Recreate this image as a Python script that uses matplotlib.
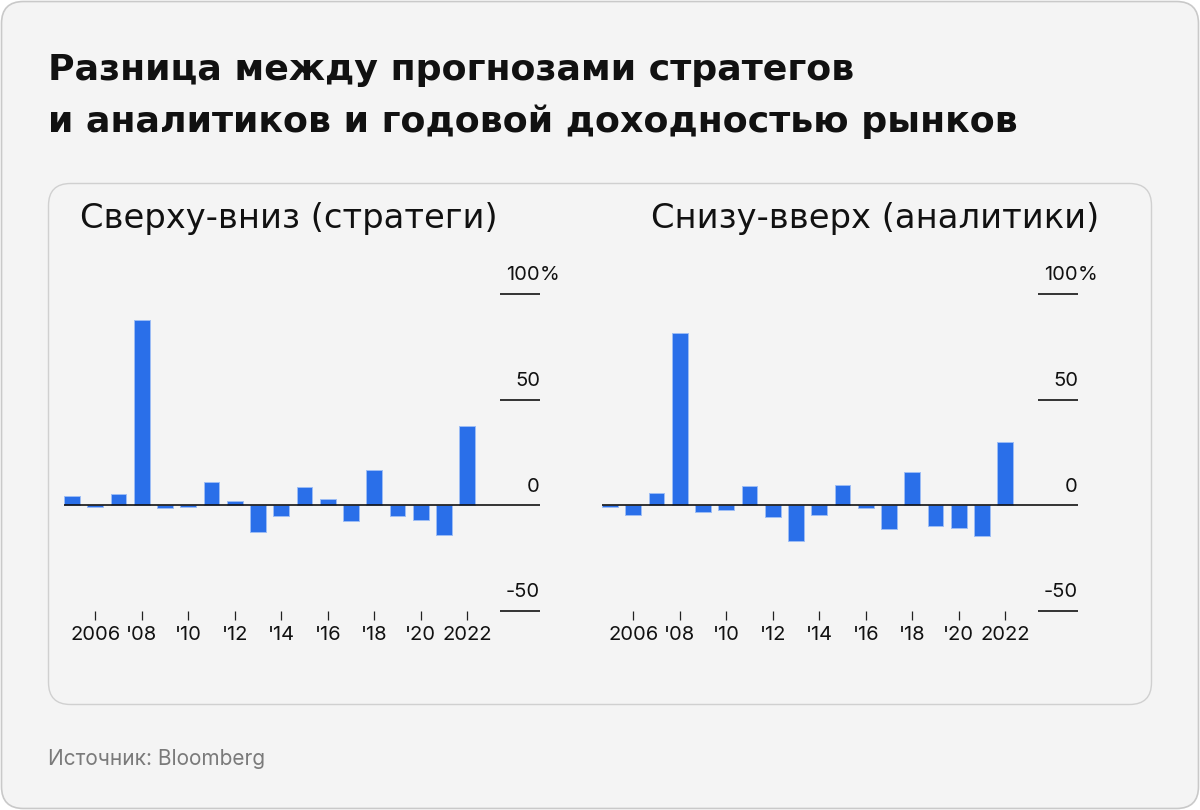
import matplotlib
matplotlib.use("Agg")
import matplotlib.pyplot as plt
from matplotlib.patches import FancyBboxPatch
from matplotlib.transforms import blended_transform_factory

# ================= DATA =================
years = [2005, 2006, 2007, 2008, 2009, 2010, 2011, 2012, 2013,
         2014, 2015, 2016, 2017, 2018, 2019, 2020, 2021, 2022]

top_down = [4.4, -0.6, 5.2, 87.7, -1.3, -0.6, 10.9, 1.9, -12.8,
            -5.2, 8.8, 3.2, -7.4, 16.6, -5.2, -7.1, -13.9, 37.4]

bottom_up = [-0.6, -4.7, 5.7, 81.4, -3.2, -2.2, 9.2, -5.5, -16.9,
             -4.7, 9.5, -1.4, -11.4, 15.6, -10.0, -10.6, -14.4, 30.0]

tick_years = [2006, 2008, 2010, 2012, 2014, 2016, 2018, 2020, 2022]
tick_labels = ["2006", "'08", "'10", "'12", "'14", "'16", "'18", "'20", "2022"]
grid_values = [100, 50, 0, -50]

title_lines = ["Разница между прогнозами стратегов",
               "и аналитиков и годовой доходностью рынков"]
panel_titles = ["Сверху-вниз (стратеги)", "Снизу-вверх (аналитики)"]
source = "Источник: Bloomberg"

# ================= STYLE =================
plt.rcParams["font.family"] = ["Inter", "DejaVu Sans"]
HEAD_FONT = ["DejaVu Sans"]
BG = "#f4f4f4"
BAR = "#2a6fe9"
BAR_EDGE = "#9dbdf5"
W, H = 1200, 810

fig = plt.figure(figsize=(W / 100, H / 100), dpi=100, facecolor="white")

# background axes in pixel coords
bg = fig.add_axes([0, 0, 1, 1])
bg.set_xlim(0, W)
bg.set_ylim(H, 0)
bg.axis("off")

bg.add_patch(FancyBboxPatch((1.5, 1.5), W - 3, H - 3,
                            boxstyle="round,pad=0,rounding_size=22",
                            facecolor=BG, edgecolor="#c9c9c9", linewidth=1.2))
bg.add_patch(FancyBboxPatch((48.5, 183.5), 1103, 521,
                            boxstyle="round,pad=0,rounding_size=22",
                            facecolor=BG, edgecolor="#d0d0d0", linewidth=1.0))

bg.text(48, 80, title_lines[0], family=HEAD_FONT, fontsize=26.2,
        fontweight="bold", color="#111111", va="baseline", ha="left")
bg.text(48, 132, title_lines[1], family=HEAD_FONT, fontsize=26.2,
        fontweight="bold", color="#111111", va="baseline", ha="left")

bg.text(80, 228, panel_titles[0], family=HEAD_FONT, fontsize=24.3,
        color="#111111", va="baseline", ha="left")
bg.text(651, 228, panel_titles[1], family=HEAD_FONT, fontsize=24.3,
        color="#111111", va="baseline", ha="left")

bg.text(48, 765, source, fontsize=15, color="#7a7a7a",
        va="baseline", ha="left")

# ================= PANELS =================
XMIN, XMAX = 2004.66, 2025.13
GRID_X0 = 2023.4
ax_top_px, ax_bot_px = 294, 611


def draw_panel(left_px, values):
    ax = fig.add_axes([left_px / W, (H - ax_bot_px) / H,
                       476 / W, (ax_bot_px - ax_top_px) / H])
    ax.patch.set_alpha(0)
    ax.set_xlim(XMIN, XMAX)
    ax.set_ylim(-50, 100)

    ax.bar(years, values, width=0.68, color=BAR,
           edgecolor=BAR_EDGE, linewidth=0.7, zorder=2)

    ax.axhline(0, color="#111111", lw=1.2, zorder=3)
    for v in grid_values:
        if v != 0:
            ax.hlines(v, GRID_X0, XMAX, color="#111111", lw=1.2,
                      clip_on=False)

    trans = blended_transform_factory(ax.transAxes, ax.transData)
    for v in grid_values:
        ax.text(1.0, v + 4.5, str(v), transform=trans,
                ha="right", va="bottom", fontsize=14.5, color="#111111")
    ax.text(1.0, 100 + 4.5, "%", transform=trans,
            ha="left", va="bottom", fontsize=14.5, color="#111111")

    for s in ax.spines.values():
        s.set_visible(False)
    ax.set_yticks([])
    ax.set_xticks(tick_years)
    ax.set_xticklabels(tick_labels)
    ax.tick_params(axis="x", direction="out", length=6.5, width=0.9,
                   color="#222222", pad=4, labelsize=14.5,
                   labelcolor="#111111")
    return ax


draw_panel(64, top_down)
draw_panel(602, bottom_up)

fig.savefig("out.png", dpi=100, facecolor="white")
